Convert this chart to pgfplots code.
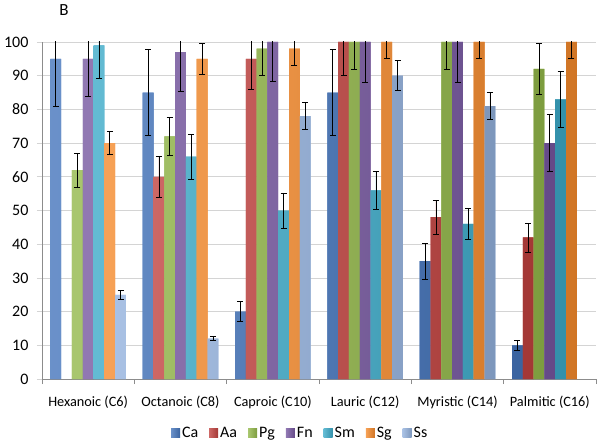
\documentclass[border=0pt]{standalone}
\usepackage{pgfplots}
\pgfplotsset{compat=1.18}
\usepackage{fontspec}
\setmainfont{Carlito}

\definecolor{cCa}{HTML}{4575BC}
\definecolor{cAa}{HTML}{C0413E}
\definecolor{cPg}{HTML}{93B84A}
\definecolor{cFn}{HTML}{7657A0}
\definecolor{cSm}{HTML}{3CAAC8}
\definecolor{cSg}{HTML}{F58A2C}
\definecolor{cSs}{HTML}{93B1DD}
\definecolor{gridc}{HTML}{D4D4D4}
\definecolor{axc}{HTML}{8C8C8C}

\pgfplotsset{
    barcol/.style={fill=#1, left color=#1!80!white, middle color=#1, right color=#1!85!black}
}

\begin{document}
\begin{tikzpicture}
\begin{axis}[
    scale only axis,
    width=554pt, height=337pt,
    ybar=0pt,
    bar width=10.8pt,
    xmin=-0.5, xmax=5.5,
    ymin=0, ymax=100,
    ytick={0,10,...,100},
    xtick={0,...,5},
    xticklabels={Hexanoic (C6),Octanoic (C8),Caproic (C10),Lauric (C12),Myristic (C14),Palmitic (C16)},
    minor xtick={-0.5,0.5,...,5.5},
    major x tick style={draw=none},
    tick align=outside,
    major tick length=5pt,
    minor tick length=5pt,
    tick style={gridc, line width=0.8pt},
    minor x tick style={axc},
    axis x line*=bottom,
    axis y line*=left,
    axis line style={axc, line width=0.8pt, -},
    ymajorgrids,
    grid style={gridc, line width=0.8pt},
    /pgf/number format/assume math mode=true,
    yticklabel style={font=\fontsize{16}{20}\selectfont, xshift=-5pt},
    xticklabel style={font=\fontsize{14.3}{17}\selectfont, yshift=-8pt},
    legend style={at={(0.466,-0.16)}, anchor=center, draw=none, fill=none,
        legend columns=7, font=\fontsize{16}{19}\selectfont,
        /tikz/every even column/.append style={column sep=9pt}},
    legend image code/.code={\fill[#1] (0pt,-4.5pt) rectangle (9pt,4.5pt);},
    extra description/.code={
        \node[font=\fontsize{17}{20}\selectfont] at ([shift={(22pt,32pt)}]rel axis cs:0,1) {B};
        \path ([shift={(-42pt,-66pt)}]rel axis cs:0,0) rectangle ([shift={(4pt,42pt)}]rel axis cs:1,1);
    },
    every axis plot/.append style={draw=none,
        error bars/y dir=both, error bars/y explicit,
        error bars/error bar style={draw=black, line width=0.8pt},
        error bars/error mark options={rotate=90, mark size=3pt, draw=black, line width=0.8pt}},
]
\addplot[barcol=cCa] coordinates {
    (0,95) +- (0,14.2) (1,85) +- (0,12.7) (2,20) +- (0,3) (3,85) +- (0,12.8) (4,35) +- (0,5.3) (5,10) +- (0,1.5)};
\addplot[barcol=cAa] coordinates {
    (1,60) +- (0,6) (2,95) +- (0,9.2) (3,100) +- (0,10) (4,48) +- (0,5) (5,42) +- (0,4.3)};
\addplot[barcol=cPg] coordinates {
    (0,62) +- (0,5) (1,72) +- (0,5.7) (2,98) +- (0,7.8) (3,100) +- (0,8) (4,100) +- (0,8) (5,92) +- (0,7.5)};
\addplot[barcol=cFn] coordinates {
    (0,95) +- (0,11.2) (1,97) +- (0,11.6) (2,100) +- (0,11.8) (3,100) +- (0,12) (4,100) +- (0,12) (5,70) +- (0,8.5)};
\addplot[barcol=cSm] coordinates {
    (0,99) +- (0,9.9) (1,66) +- (0,6.7) (2,50) +- (0,5.2) (3,56) +- (0,5.6) (4,46) +- (0,4.7) (5,83) +- (0,8.3)};
\addplot[barcol=cSg] coordinates {
    (0,70) +- (0,3.5) (1,95) +- (0,4.7) (2,98) +- (0,4.8) (3,100) +- (0,4.8) (4,100) +- (0,4.8) (5,100) +- (0,4.8)};
\addplot[barcol=cSs] coordinates {
    (0,25) +- (0,1.3) (1,12) +- (0,0.5) (2,78) +- (0,4) (3,90) +- (0,4.5) (4,81) +- (0,4)};
\legend{Ca,Aa,Pg,Fn,Sm,Sg,Ss}
\end{axis}
\end{tikzpicture}
\end{document}
